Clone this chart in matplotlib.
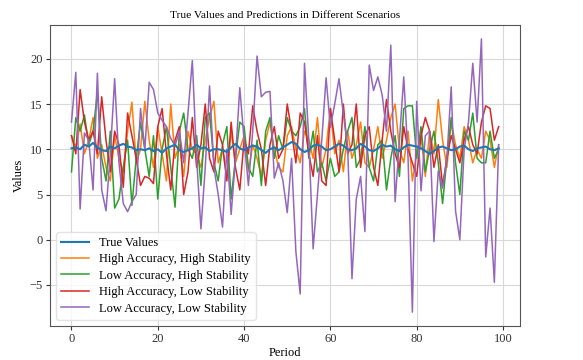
import matplotlib
matplotlib.use("Agg")
import matplotlib.pyplot as plt
import numpy as np

plt.rcParams['font.family'] = ['Liberation Serif', 'DejaVu Serif']

periods = list(range(100))

true_values = [10.1, 10.2, 10.0, 10.5, 10.3, 10.7, 10.2, 9.9, 9.8, 10.3, 10.1, 10.4, 10.6, 10.3, 10.2, 9.9, 10.0, 9.9, 10.1, 9.8,
               10.0, 9.6, 10.1, 10.3, 10.5, 9.9, 9.7, 9.9, 10.1, 10.5, 10.1, 10.2, 9.8, 10.0, 10.0, 9.9, 9.7, 10.2, 10.6, 10.1,
               9.9, 10.2, 10.4, 10.3, 9.9, 9.6, 10.0, 10.2, 9.9, 10.2, 10.5, 10.8, 10.6, 10.0, 9.7, 9.9, 10.4, 10.5, 10.3, 9.9,
               10.0, 10.3, 10.6, 10.4, 10.0, 9.9, 10.1, 10.6, 10.3, 9.9, 9.8, 10.1, 10.5, 10.3, 10.4, 10.0, 9.8, 10.2, 10.5, 10.4,
               10.3, 10.1, 9.8, 9.5, 9.8, 10.2, 10.3, 10.1, 9.9, 10.0, 10.3, 10.4, 10.0, 9.8, 10.1, 10.2, 10.3, 10.0, 9.9, 10.1]

ha_hs = [11.5, 10.2, 12.8, 9.5, 11.0, 13.5, 9.0, 10.5, 8.0, 6.5, 11.5, 9.0, 7.5, 12.0, 15.2, 8.5, 10.0, 15.3, 11.0, 8.0,
         12.5, 9.5, 6.5, 15.0, 9.0, 10.5, 7.0, 12.0, 10.0, 9.5, 8.0, 11.0, 13.5, 15.3, 8.5, 10.0, 7.0, 12.0, 8.5, 10.0,
         11.5, 7.5, 10.5, 9.0, 7.0, 11.0, 13.0, 10.0, 8.0, 7.5, 11.5, 12.5, 10.0, 8.5, 12.0, 11.0, 9.0, 13.5, 8.0, 10.0,
         14.5, 9.5, 11.0, 7.5, 12.0, 9.0, 10.5, 13.0, 8.5, 8.0, 10.0, 12.5, 9.0, 11.0, 13.5, 15.0, 10.0, 8.5, 12.0, 6.5,
         9.5, 11.5, 7.0, 12.0, 9.5, 15.5, 11.0, 8.0, 13.0, 10.5, 9.0, 12.5, 11.0, 8.5, 10.0, 9.0, 12.0, 11.0, 8.0, 10.5]

la_hs = [7.5, 13.5, 12.0, 13.8, 10.5, 12.0, 16.3, 9.0, 6.5, 12.0, 3.5, 4.5, 8.0, 11.0, 3.8, 9.0, 13.0, 10.0, 7.0, 11.5,
         4.5, 10.0, 12.5, 8.0, 3.6, 12.0, 14.0, 10.0, 9.0, 11.5, 6.0, 13.5, 14.0, 8.5, 6.5, 10.5, 12.5, 4.5, 9.0, 13.0,
         12.5, 8.0, 7.0, 11.0, 6.0, 12.0, 13.5, 9.0, 11.5, 10.0, 13.5, 12.0, 11.5, 12.5, 14.5, 9.0, 12.0, 7.5, 8.5, 6.5,
         9.0, 7.0, 7.5, 10.0, 12.0, 13.5, 8.0, 9.0, 12.5, 8.0, 6.5, 10.5, 11.0, 5.5, 9.0, 11.5, 7.0, 14.5, 14.8, 14.8,
         9.0, 12.5, 7.5, 10.0, 12.0, 8.5, 4.0, 9.0, 13.5, 8.5, 5.0, 12.0, 11.0, 14.0, 9.0, 8.5, 8.5, 12.0, 9.0, 10.0]

ha_ls = [11.5, 9.5, 16.6, 13.0, 11.0, 12.0, 9.5, 15.8, 11.0, 7.5, 12.0, 10.5, 5.8, 14.0, 11.5, 9.0, 6.0, 7.0, 6.8, 6.2,
         12.5, 14.5, 9.5, 5.5, 11.0, 12.5, 5.0, 7.5, 13.5, 8.0, 10.5, 15.0, 9.0, 7.5, 12.0, 10.5, 6.5, 13.0, 8.0, 5.5,
         11.0, 9.5, 14.8, 12.0, 10.0, 6.0, 10.5, 12.5, 9.0, 10.0, 15.0, 12.0, 8.5, 14.0, 13.0, 9.5, 7.0, 11.5, 6.5, 6.0,
         14.5, 11.0, 7.5, 15.0, 9.5, 10.5, 15.0, 8.0, 11.5, 12.5, 8.0, 6.0, 11.0, 15.5, 12.0, 9.5, 8.0, 12.5, 10.0, 8.5,
         7.0, 11.5, 13.5, 12.0, 8.0, 10.5, 6.0, 9.0, 11.5, 10.0, 8.5, 11.0, 12.5, 10.5, 9.5, 13.0, 14.8, 14.5, 11.0, 12.5]

la_ls = [13.0, 18.5, 3.4, 11.8, 11.0, 5.5, 18.4, 5.5, 3.2, 9.5, 17.8, 8.5, 4.0, 3.1, 4.2, 5.0, 14.5, 10.0, 17.4, 16.6,
         14.0, 13.2, 12.5, 11.2, 10.4, 12.0, 8.5, 14.0, 19.8, 9.0, 1.2, 8.0, 17.0, 8.0, 5.0, 1.4, 10.0, 2.8, 9.0, 16.8,
         11.0, 6.0, 12.0, 20.3, 15.8, 16.3, 16.4, 6.8, 8.5, 6.5, 3.0, 9.0, -1.3, -6.0, 19.5, 11.0, -1.0, 5.0, 11.0, 17.9,
         12.4, 15.0, 17.8, 13.9, 10.3, -4.3, 4.5, 7.0, 0.9, 19.3, 16.5, 18.0, 16.0, 12.0, 21.5, 4.2, 11.0, 18.0, 9.0, -8.0,
         15.3, 5.4, 11.5, 12.0, -0.2, 7.6, 5.7, 9.0, 16.9, 3.2, 0.0, 10.0, 13.0, 19.5, 13.0, 22.2, -1.9, 3.5, -4.7, 10.5]

labels = ['True Values', 'High Accuracy, High Stability', 'Low Accuracy, High Stability',
          'High Accuracy, Low Stability', 'Low Accuracy, Low Stability']

fig = plt.figure(figsize=(5.83, 3.6), dpi=100)
ax = fig.add_axes([0.086, 0.095, 0.806, 0.835])

ax.plot(periods, true_values, color='#1f77b4', lw=1.5, label=labels[0], zorder=5)
ax.plot(periods, ha_hs, color='#ff7f0e', lw=1.1, label=labels[1])
ax.plot(periods, la_hs, color='#2ca02c', lw=1.1, label=labels[2])
ax.plot(periods, ha_ls, color='#d62728', lw=1.1, label=labels[3])
ax.plot(periods, la_ls, color='#9467bd', lw=1.1, label=labels[4])

ax.set_title('True Values and Predictions in Different Scenarios', fontsize=8.2, pad=5)
ax.set_xlabel('Period', fontsize=9, labelpad=1)
ax.set_ylabel('Values', fontsize=9, labelpad=3)
ax.tick_params(labelsize=9, colors='#333333', length=3, pad=2.5)
ax.grid(True, color='#d9d9d9', lw=0.8)
ax.set_axisbelow(True)
for s in ax.spines.values():
    s.set_color('#555555')
ax.legend(loc='lower left', fontsize=9, frameon=True, framealpha=0.8, edgecolor='#dddddd',
          handlelength=2.2, borderpad=0.4, labelspacing=0.35)

fig.savefig('out.png', dpi=100)
